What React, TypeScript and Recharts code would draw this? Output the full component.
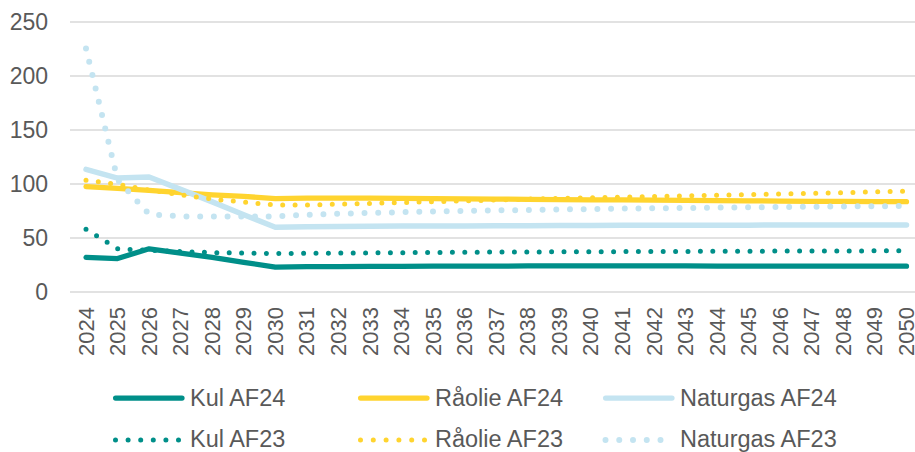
import React from 'react';
import { LineChart, Line, XAxis, YAxis, CartesianGrid, Legend } from 'recharts';

// Prices indexed, AF24 vs AF23 projections
const years = [
  '2024', '2025', '2026', '2027', '2028', '2029', '2030', '2031', '2032', '2033',
  '2034', '2035', '2036', '2037', '2038', '2039', '2040', '2041', '2042', '2043',
  '2044', '2045', '2046', '2047', '2048', '2049', '2050',
];

const kulAF24 = [
  32, 31, 40, 36, 32, 27.5, 23, 23.5, 23.6, 23.7, 23.8, 23.9, 24, 24, 24.1, 24.1,
  24.1, 24.1, 24.1, 24.1, 24, 24, 24, 24, 24, 23.9, 23.9,
];
const raolieAF24 = [
  97.5, 96, 94, 92, 90, 88.5, 86.5, 87, 87, 87, 86.8, 86.5, 86.2, 86, 85.8, 85.6,
  85.4, 85.2, 85, 84.8, 84.6, 84.4, 84.2, 84, 83.9, 83.7, 83.6,
];
const naturgasAF24 = [
  113.5, 105.5, 106.5, 95, 83.5, 71.5, 60, 60.5, 60.7, 60.9, 61, 61.1, 61.2, 61.3,
  61.4, 61.5, 61.6, 61.7, 61.8, 61.8, 61.9, 61.9, 62, 62, 62, 62, 62,
];
const kulAF23 = [
  58, 40, 38.5, 37.5, 36.5, 36, 35.5, 35.8, 36, 36.2, 36.4, 36.6, 36.8, 37, 37.1,
  37.2, 37.3, 37.4, 37.5, 37.6, 37.7, 37.8, 37.9, 38, 38, 38.1, 38.2,
];
const raolieAF23 = [
  103.5, 99.7, 94.4, 90, 86, 83.3, 80.5, 80.5, 81.3, 82, 82.8, 83.6, 84.4, 85.2, 86,
  86.6, 87.2, 87.8, 88.4, 89, 89.6, 90.2, 90.8, 91.4, 92, 92.7, 93.4,
];
const naturgasAF23 = [
  225.5, 104, 72, 70, 70, 70, 70, 71.5, 72.5, 73.2, 73.9, 74.5, 75, 75.5, 76, 76.4,
  76.8, 77.2, 77.5, 77.8, 78.1, 78.4, 78.7, 79, 79.2, 79.4, 79.6,
];

const yTicks = [0, 50, 100, 150, 200, 250];

const TEAL = '#008F89';
const YELLOW = '#FFD42F';
const LIGHTBLUE = '#C4E4F1';
const TEXT = '#595959';
const GRID = '#D9D9D9';
const FONT = '"Liberation Sans", Arial, sans-serif';

const data = years.map((year, i) => ({
  year,
  kul24: kulAF24[i],
  raolie24: raolieAF24[i],
  gas24: naturgasAF24[i],
  kul23: kulAF23[i],
  raolie23: raolieAF23[i],
  gas23: naturgasAF23[i],
}));

const series = [
  { key: 'kul24', name: 'Kul AF24', color: TEAL, width: 5.25, dash: undefined, legendDash: undefined },
  { key: 'raolie24', name: 'Råolie AF24', color: YELLOW, width: 5.25, dash: undefined, legendDash: undefined },
  { key: 'gas24', name: 'Naturgas AF24', color: LIGHTBLUE, width: 5.5, dash: undefined, legendDash: undefined },
  { key: 'kul23', name: 'Kul AF23', color: TEAL, width: 5, dash: '0 12.4', legendDash: '0 12.6' },
  { key: 'raolie23', name: 'Råolie AF23', color: YELLOW, width: 5, dash: '0 12.4', legendDash: '0 12.8' },
  { key: 'gas23', name: 'Naturgas AF23', color: LIGHTBLUE, width: 6, dash: '0 13.7', legendDash: '0 13.75' },
];

function XTick({ x, y, payload }: any) {
  return (
    <text
      x={x}
      y={y}
      transform={`rotate(-90 ${x} ${y})`}
      textAnchor="end"
      dominantBaseline="central"
      fontSize={22}
      fontFamily={FONT}
      fill={TEXT}
    >
      {payload.value}
    </text>
  );
}

// legend drawn in page coordinates: 3 columns, 2 rows
function LegendContent() {
  const colX = [113, 358, 603];
  const rowY = [398, 440];
  const textY = [406.4, 447];
  return (
    <svg width={915} height={452} style={{ display: 'block' }}>
      {series.map((s, i) => {
        const col = i % 3;
        const row = Math.floor(i / 3);
        const x0 = colX[col];
        const y0 = rowY[row];
        const solid = !s.legendDash;
        return (
          <g key={s.key}>
            {solid ? (
              <line
                x1={x0 + 2.6}
                x2={x0 + 69}
                y1={y0}
                y2={y0}
                stroke={s.color}
                strokeWidth={5.25}
                strokeLinecap="round"
              />
            ) : (
              <line
                x1={x0 + 2.5}
                x2={x0 + 68}
                y1={y0}
                y2={y0}
                stroke={s.color}
                strokeWidth={s.width}
                strokeDasharray={s.legendDash}
                strokeLinecap="round"
              />
            )}
            <text
              x={x0 + 77}
              y={textY[row]}
              fontSize={23.5}
              fontFamily={FONT}
              fill={TEXT}
            >
              {s.name}
            </text>
          </g>
        );
      })}
    </svg>
  );
}

export default function App() {
  return (
    <div style={{ position: 'absolute', left: 0, top: 0, width: 915, height: 452, background: '#fff' }}>
      <LineChart
        width={915}
        height={452}
        data={data}
        margin={{ top: 22, right: 0, bottom: 0, left: 0 }}
      >
        <CartesianGrid vertical={false} stroke={GRID} strokeWidth={1.5} />
        <XAxis
          dataKey="year"
          interval={0}
          axisLine={false}
          tickLine={false}
          tickSize={0}
          tickMargin={15}
          height={160}
          padding={{ left: 16, right: 8.5 }}
          tick={<XTick />}
        />
        <YAxis
          domain={[0, 250]}
          ticks={yTicks}
          width={70}
          axisLine={false}
          tickLine={false}
          tickSize={0}
          tickMargin={22}
          tick={{ fill: TEXT, fontSize: 23, fontFamily: FONT }}
        />
        <Legend
          layout="horizontal"
          verticalAlign="middle"
          align="center"
          wrapperStyle={{ top: 0, left: 0, width: 915, height: 452, pointerEvents: 'none' }}
          content={<LegendContent />}
        />
        {series.map((s) => (
          <Line
            key={s.key}
            type="linear"
            dataKey={s.key}
            name={s.name}
            stroke={s.color}
            strokeWidth={s.width}
            strokeDasharray={s.dash}
            strokeLinecap="round"
            strokeLinejoin="round"
            dot={false}
            activeDot={false}
            isAnimationActive={false}
          />
        ))}
      </LineChart>
    </div>
  );
}
